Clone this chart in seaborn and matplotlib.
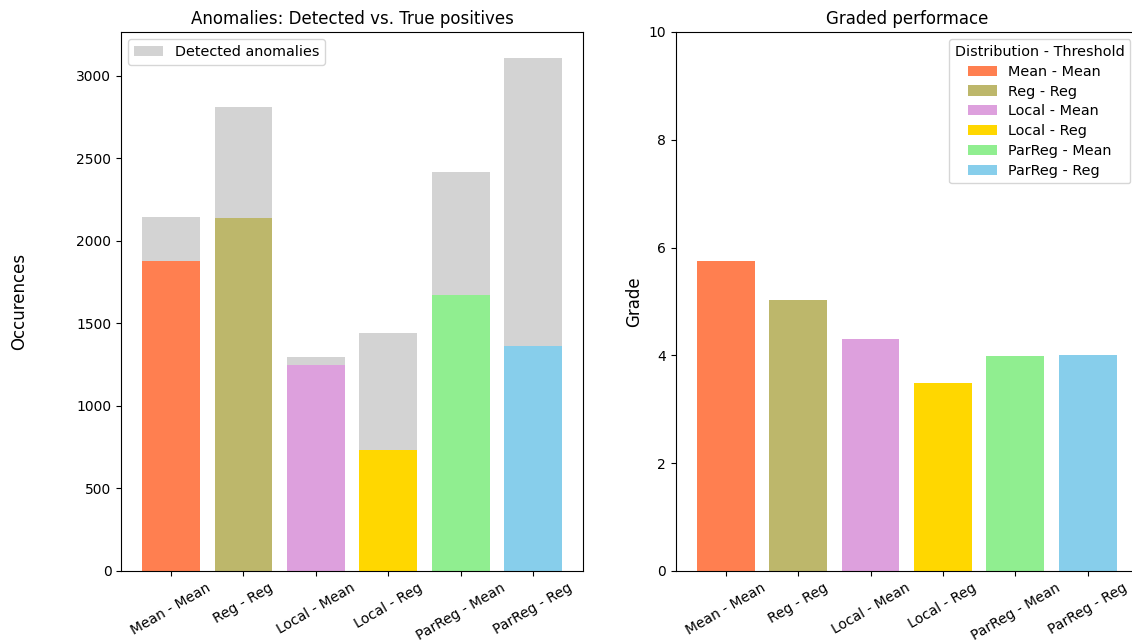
import numpy as np
import pandas as pd
import matplotlib
matplotlib.use("Agg")
import matplotlib.pyplot as plt
import seaborn as sns

# --- Data ---
categories = ["Mean - Mean", "Reg - Reg", "Local - Mean",
              "Local - Reg", "ParReg - Mean", "ParReg - Reg"]
detected = [2141, 2812, 1294, 1440, 2419, 3109]
true_positives = [1875, 2135, 1246, 732, 1669, 1361]
grades = [5.75, 5.02, 4.31, 3.48, 3.99, 4.00]
colors = ["coral", "darkkhaki", "plum", "gold", "lightgreen", "skyblue"]

hue_name = "Distribution - Threshold"
df = pd.DataFrame({
    hue_name: categories,
    "detected": detected,
    "tp": true_positives,
    "grade": grades,
})

fig = plt.figure(figsize=(11.32, 6.4), dpi=100)
ax1 = fig.add_axes([0.107, 0.108, 0.408, 0.842])
ax2 = fig.add_axes([0.597, 0.108, 0.408, 0.842])

# x limits like matplotlib's default bar margins
n = len(categories)
pad = 0.05 * (n - 1 + 0.8)
xlim = (-0.4 - pad, n - 1 + 0.4 + pad)

# --- Left: detected (grey) with true positives on top ---
sns.barplot(data=df, x=hue_name, y="detected", color="lightgray",
            saturation=1, label="Detected anomalies", ax=ax1)
sns.barplot(data=df, x=hue_name, y="tp", hue=hue_name, palette=colors,
            saturation=1, legend=False, ax=ax1)
ax1.set_xlim(*xlim)
ax1.set_title("Anomalies: Detected vs. True positives", fontsize=12)
ax1.set_xlabel("")
ax1.set_ylabel("Occurences", fontsize=12, labelpad=35)
handles, labels = ax1.get_legend_handles_labels()
ax1.legend(handles[:1], labels[:1], loc="upper left", fontsize=10.4)
ax1.tick_params(axis="x", labelrotation=30)

# --- Right: graded performance ---
sns.barplot(data=df, x=hue_name, y="grade", hue=hue_name, palette=colors,
            saturation=1, legend=True, ax=ax2)
ax2.set_xlim(*xlim)
ax2.set_ylim(0, 10)
ax2.set_title("Graded performace", fontsize=12)
ax2.set_xlabel("")
ax2.set_ylabel("Grade", fontsize=12)
ax2.tick_params(axis="x", labelrotation=30)
sns.move_legend(ax2, "upper right", title=hue_name,
                fontsize=10.4, title_fontsize=10.4, labelspacing=0.4)

for ax in (ax1, ax2):
    for lbl in ax.get_xticklabels():
        lbl.set_ha("center")

fig.savefig("out.png", dpi=100)
